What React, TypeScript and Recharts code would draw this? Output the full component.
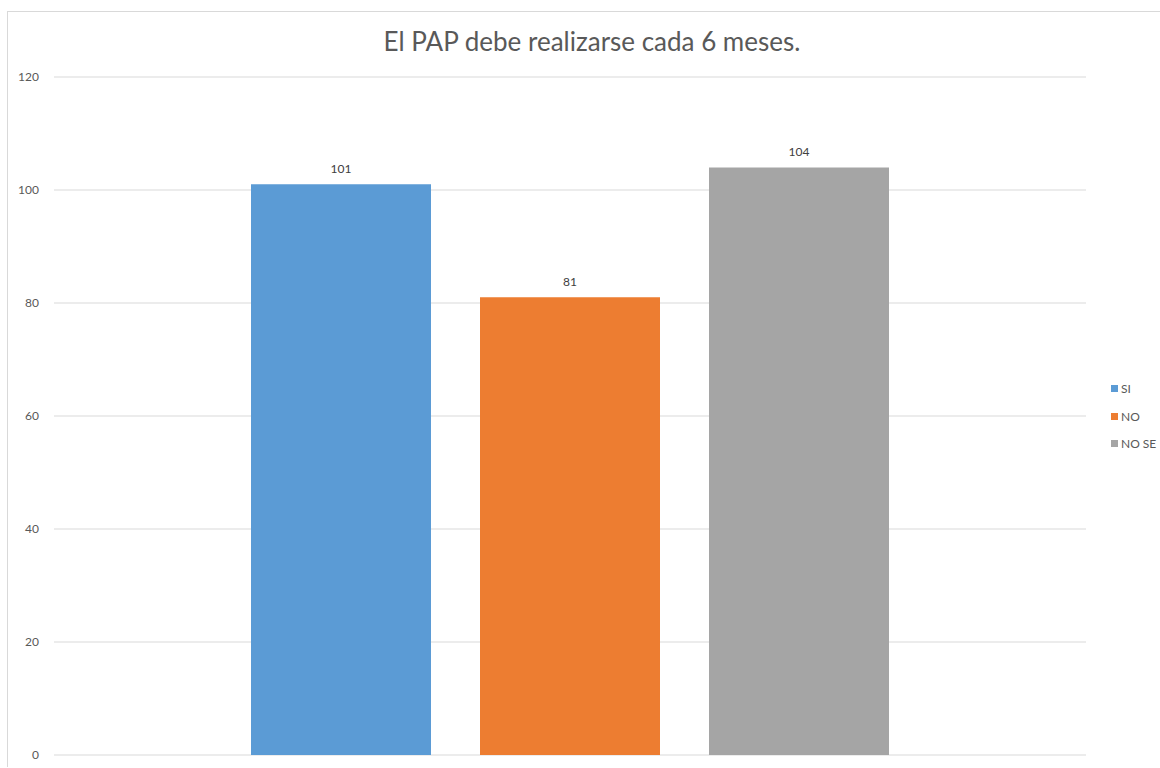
import React from 'react'
import { BarChart, Bar, XAxis, YAxis, CartesianGrid, LabelList } from 'recharts'

const title = 'El PAP debe realizarse cada 6 meses.'
const seriesNames = ['SI', 'NO', 'NO SE']
const seriesValues = [101, 81, 104]
const seriesColors = ['#5b9bd5', '#ed7d31', '#a5a5a5']
const yTicks = [0, 20, 40, 60, 80, 100, 120]

const data = [
  seriesNames.reduce((row: Record<string, number | string>, name, i) => {
    row[name] = seriesValues[i]
    return row
  }, { name: '' }),
]

const font = 'Lato, "Open Sans", sans-serif'

const LegendBox = () => (
  <div
    style={{
      position: 'absolute',
      left: 1104,
      top: 364,
      fontFamily: font,
      fontSize: 12,
      color: '#595959',
      whiteSpace: 'nowrap',
    }}
  >
    {seriesNames.map((name, i) => (
      <div key={name} style={{ display: 'flex', alignItems: 'center', height: 27.5 }}>
        <span style={{ width: 7, height: 7, background: seriesColors[i], marginRight: 3, display: 'inline-block' }} />
        <span>{name}</span>
      </div>
    ))}
  </div>
)

const App: React.FC = () => {
  return (
    <div style={{ position: 'absolute', left: 7, top: 11, width: 1153, height: 756 }}>
      <div
        style={{
          position: 'absolute',
          left: 0,
          top: 0,
          width: 1153,
          height: 756,
          borderTop: '1px solid #d9d9d9',
          borderLeft: '1px solid #d9d9d9',
          boxSizing: 'border-box',
        }}
      />
      <div
        style={{
          position: 'absolute',
          left: 0,
          width: 1170,
          top: 14,
          textAlign: 'center',
          fontFamily: font,
          fontSize: 26,
          color: '#595959',
        }}
      >
        {title}
      </div>
      <div style={{ position: 'absolute', left: 1, top: 0 }}>
        <BarChart
          width={1150}
          height={756}
          data={data}
          margin={{ top: 66, right: 72, bottom: 12, left: 0 }}
          barSize={180}
          barGap={49}
        >
          <CartesianGrid vertical={false} stroke="#d9d9d9" strokeWidth={1} />
          <XAxis dataKey="name" hide />
          <YAxis
            width={46}
            domain={[0, 120]}
            ticks={yTicks}
            interval={0}
            axisLine={false}
            tickLine={false}
            tickMargin={9}
            tick={{ fill: '#595959', fontSize: 12, fontFamily: font }}
          />
          {seriesNames.map((name, i) => (
            <Bar key={name} dataKey={name} fill={seriesColors[i]} isAnimationActive={false}>
              <LabelList dataKey={name} position="top" offset={11} fill="#404040" fontSize={12} fontFamily={font} />
            </Bar>
          ))}
        </BarChart>
      </div>
      <LegendBox />
    </div>
  )
}

export default App
